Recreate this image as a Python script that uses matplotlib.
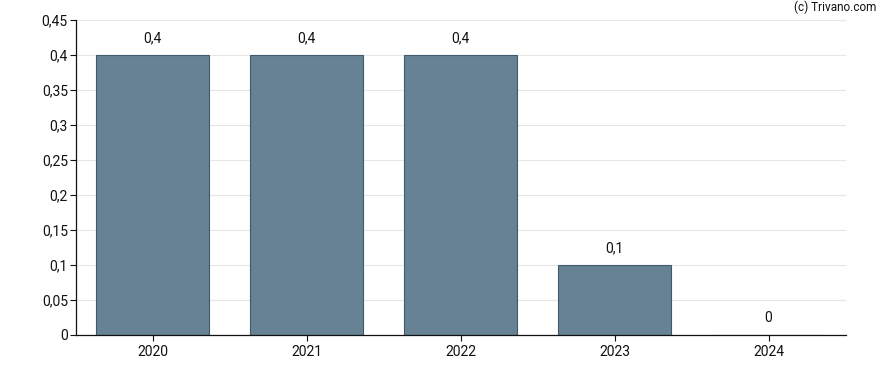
import matplotlib
matplotlib.use("Agg")
import matplotlib.pyplot as plt
from matplotlib.ticker import FuncFormatter

years = ["2020", "2021", "2022", "2023", "2024"]
values = [0.4, 0.4, 0.4, 0.1, 0.0]
labels = ["0,4", "0,4", "0,4", "0,1", "0"]
yticks = [0, 0.05, 0.1, 0.15, 0.2, 0.25, 0.3, 0.35, 0.4, 0.45]

plt.rcParams['font.family'] = ['Roboto', 'DejaVu Sans']

W, H = 888, 370
fig = plt.figure(figsize=(W/100, H/100), dpi=100)
ax = fig.add_axes([75.5/W, (H-335)/H, (845.5-75.5)/W, (335-20)/H])

x = list(range(len(years)))
ax.bar(x, values, width=0.74, color="#668293", edgecolor="#3f5a6c", linewidth=0.8, zorder=3)
for xi, v, lab in zip(x, values, labels):
    ax.annotate(lab, (xi, v), xytext=(0, 7), textcoords="offset points",
                ha="center", va="bottom", fontsize=10, color="#111111")

ax.set_xlim(-0.5, len(years) - 0.5)
ax.set_ylim(0, 0.45)
ax.set_xticks(x)
ax.set_xticklabels(years)
ax.set_yticks(yticks)
ax.yaxis.set_major_formatter(FuncFormatter(lambda v, p: ("%g" % round(v, 2)).replace(".", ",")))
ax.tick_params(axis="both", labelsize=10, length=4, width=0.8, colors="#111111")
ax.tick_params(axis="y", pad=1.5)
ax.tick_params(axis="x", pad=3)
ax.grid(axis="y", color="#e6e6e6", linewidth=0.8, zorder=0)
for s in ["top", "right"]:
    ax.spines[s].set_visible(False)
for s in ["left", "bottom"]:
    ax.spines[s].set_color("#111111")
    ax.spines[s].set_linewidth(0.9)
ax.spines["bottom"].set_zorder(4)

fig.text(876/W, (H-7)/H, "(c) Trivano.com", ha="right", va="center", fontsize=8.5, color="#111111")

fig.savefig("out.png", dpi=100)
